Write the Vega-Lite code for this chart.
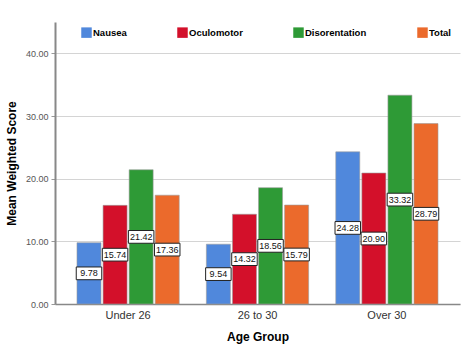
{
  "$schema": "https://vega.github.io/schema/vega-lite/v6.json",
  "width": 405,
  "height": 282,
  "autosize": {"type": "none"},
  "padding": {"left": 55, "top": 22, "right": 16, "bottom": 52},
  "background": "white",
  "config": {
    "font": "Liberation Sans",
    "view": {"stroke": null}
  },
  "data": {
    "values": [
      {"group": "Under 26", "measure": "Nausea", "score": 9.78},
      {"group": "Under 26", "measure": "Oculomotor", "score": 15.74},
      {"group": "Under 26", "measure": "Disorentation", "score": 21.42},
      {"group": "Under 26", "measure": "Total", "score": 17.36},
      {"group": "26 to 30", "measure": "Nausea", "score": 9.54},
      {"group": "26 to 30", "measure": "Oculomotor", "score": 14.32},
      {"group": "26 to 30", "measure": "Disorentation", "score": 18.56},
      {"group": "26 to 30", "measure": "Total", "score": 15.79},
      {"group": "Over 30", "measure": "Nausea", "score": 24.28},
      {"group": "Over 30", "measure": "Oculomotor", "score": 20.90},
      {"group": "Over 30", "measure": "Disorentation", "score": 33.32},
      {"group": "Over 30", "measure": "Total", "score": 28.79}
    ]
  },
  "encoding": {
    "x": {
      "field": "group",
      "type": "nominal",
      "sort": ["Under 26", "26 to 30", "Over 30"],
      "scale": {"paddingInner": 0.21, "paddingOuter": 0.17},
      "axis": {
        "title": "Age Group",
        "titleFont": "Liberation Sans",
        "titleFontSize": 12,
        "titleFontWeight": "bold",
        "titleColor": "#000000",
        "titlePadding": 11,
        "labelAngle": 0,
        "labelFontSize": 11,
        "labelColor": "#333333",
        "labelPadding": 5,
        "domainColor": "#888888",
        "domainWidth": 1.5,
        "ticks": false
      }
    },
    "xOffset": {
      "field": "measure",
      "type": "nominal",
      "sort": ["Nausea", "Oculomotor", "Disorentation", "Total"],
      "scale": {"paddingInner": 0.08}
    }
  },
  "layer": [
    {
      "mark": {"type": "bar", "stroke": "#9a9a9a", "strokeWidth": 0.6},
      "encoding": {
        "y": {
          "field": "score",
          "type": "quantitative",
          "scale": {"domain": [0, 45], "nice": false},
          "axis": {
            "title": "Mean Weighted Score",
            "titleFont": "Liberation Sans",
            "titleFontSize": 12,
            "titleFontWeight": "bold",
            "titleColor": "#000000",
            "titlePadding": 7,
            "values": [0, 10, 20, 30, 40],
            "format": ".2f",
            "labelFontSize": 9,
            "labelColor": "#555555",
            "labelPadding": 3,
            "domainColor": "#888888",
            "domainWidth": 2,
            "tickColor": "#999999",
            "tickSize": 4,
            "grid": true,
            "gridColor": "#d4d4d4",
            "gridWidth": 1
          }
        },
        "color": {
          "field": "measure",
          "type": "nominal",
          "sort": ["Nausea", "Oculomotor", "Disorentation", "Total"],
          "scale": {
            "domain": ["Nausea", "Oculomotor", "Disorentation", "Total"],
            "range": ["#5088dc", "#d3102a", "#2e9a36", "#eb6a2c"]
          },
          "legend": {
            "orient": "none",
            "legendX": 26,
            "legendY": 5,
            "direction": "horizontal",
            "title": null,
            "symbolType": "square",
            "symbolSize": 110,
            "symbolStrokeWidth": 0,
            "labelFontSize": 9.5,
            "labelFontWeight": "bold",
            "labelColor": "#000000",
            "labelOffset": 1,
            "columnPadding": 50
          }
        }
      }
    },
    {
      "mark": {
        "type": "point",
        "shape": "M-1,-0.5L1,-0.5L1,0.5L-1,0.5Z",
        "filled": true,
        "fill": "white",
        "stroke": "#222222",
        "strokeWidth": 1,
        "opacity": 1,
        "size": 650
      },
      "transform": [{"calculate": "datum.score / 2", "as": "mid"}],
      "encoding": {
        "y": {"field": "mid", "type": "quantitative"}
      }
    },
    {
      "mark": {"type": "text", "fontSize": 9, "color": "#111111", "baseline": "middle", "align": "center"},
      "transform": [{"calculate": "datum.score / 2", "as": "mid"}],
      "encoding": {
        "y": {"field": "mid", "type": "quantitative"},
        "text": {"field": "score", "type": "quantitative", "format": ".2f"}
      }
    }
  ]
}
